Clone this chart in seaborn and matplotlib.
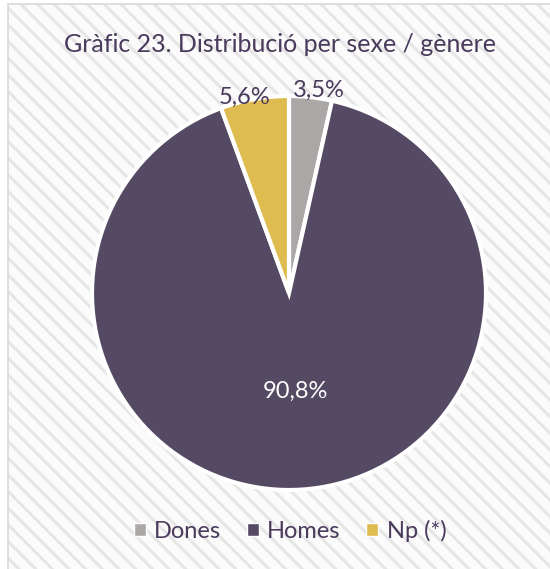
import matplotlib
matplotlib.use("Agg")
import matplotlib.pyplot as plt
import seaborn as sns
import numpy as np
from matplotlib.patches import Rectangle
from matplotlib.transforms import offset_copy

categories = ["Dones", "Homes", "Np (*)"]
values = [3.5, 90.8, 5.6]
colors = ["#aba7a6", "#554a63", "#dfbc4f"]
title = "Gràfic 23. Distribució per sexe / gènere"

sns.set_theme(style="white")
plt.rcParams["font.family"] = ["Lato", "DejaVu Sans"]
plt.rcParams["hatch.linewidth"] = 2.2
plt.rcParams["hatch.color"] = "#e6e6e6"

fig = plt.figure(figsize=(5.5, 5.69), dpi=100)
fig.patch.set_facecolor("white")
W, H = 550, 569
bg = Rectangle((8 / W, 0), 1 - 8 / W, 1 - 4 / H, transform=fig.transFigure,
               facecolor="#fbfbfb", edgecolor="#e6e6e6", hatch="\\\\",
               linewidth=0, zorder=-10)
fig.patches.append(bg)
fig.add_artist(plt.Line2D([8 / W, 8 / W], [0, 1 - 4 / H], transform=fig.transFigure,
                          color="#d9d9d9", linewidth=1.2, zorder=-5))
fig.add_artist(plt.Line2D([8 / W, 1], [1 - 4 / H, 1 - 4 / H], transform=fig.transFigure,
                          color="#d9d9d9", linewidth=1.2, zorder=-5))

R = 197
cx, cy = 289, 293
ax = fig.add_axes([(cx - R) / W, (H - cy - R) / H, 2 * R / W, 2 * R / H])
ax.set_zorder(5)
ax.set_facecolor("none")
ax.patch.set_alpha(0)
wedges, _ = ax.pie(values, colors=colors, startangle=90, counterclock=False,
                   wedgeprops=dict(edgecolor="white", linewidth=3), radius=1)
ax.set_xlim(-1, 1)
ax.set_ylim(-1, 1)
ax.set_aspect("equal")
ax.axis("off")

label_r = [1.05, 0.5, 1.03]
label_shift = [(7, -3), (0, 0), (-9, -4)]
label_color = ["#4a3a5c", "white", "#4a3a5c"]
for w, v, r, s, c in zip(wedges, values, label_r, label_shift, label_color):
    ang = np.deg2rad((w.theta1 + w.theta2) / 2)
    txt = f"{v:.1f}%".replace(".", ",")
    tr = offset_copy(ax.transData, fig=fig, x=s[0] * 0.72, y=s[1] * 0.72, units="points")
    ax.text(r * np.cos(ang), r * np.sin(ang), txt, ha="center", va="center",
            fontsize=17, color=c, transform=tr)

fig.text(280 / W, 1 - 45 / H, title, ha="center", va="center", fontsize=18,
         color="#4a3a5c", zorder=6)

handles = [Rectangle((0, 0), 1, 1, facecolor=c) for c in colors]
leg = fig.legend(handles, categories, loc="center", bbox_to_anchor=(290 / W, 1 - 531 / H),
                 ncol=3, frameon=False, fontsize=17, handlelength=0.5, handleheight=0.5,
                 handletextpad=0.35, columnspacing=1.1)
leg.set_zorder(6)
for t in leg.get_texts():
    t.set_color("#4a3a5c")

fig.savefig("out.png", dpi=100)
